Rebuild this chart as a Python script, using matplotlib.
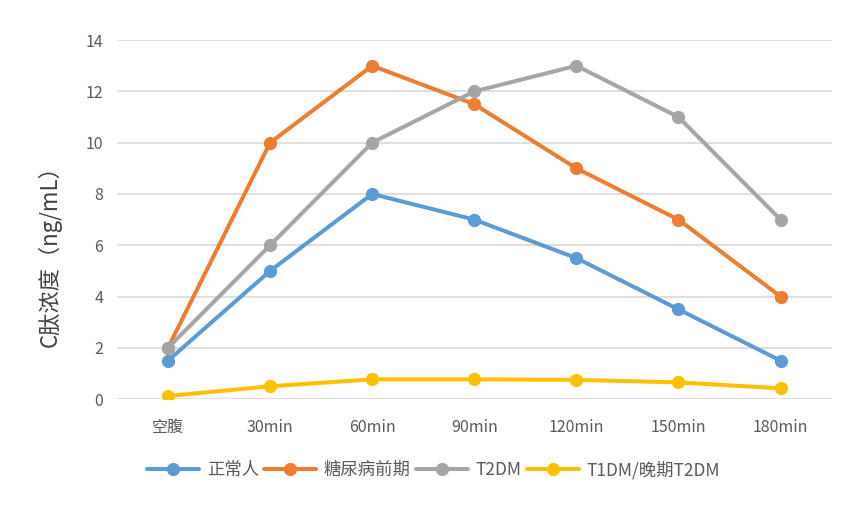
import matplotlib
matplotlib.use("Agg")
import matplotlib.pyplot as plt

plt.rcParams['font.family'] = ['Noto Sans CJK SC', 'DejaVu Sans']

categories = ['空腹', '30min', '60min', '90min', '120min', '150min', '180min']
normal = [1.5, 5, 8, 7, 5.5, 3.5, 1.5]
prediabetes = [2, 10, 13, 11.5, 9, 7, 4]
t2dm = [2, 6, 10, 12, 13, 11, 7]
t1dm = [0.12, 0.5, 0.77, 0.77, 0.75, 0.65, 0.42]

series = [
    ('正常人', normal, '#5B9BD5'),
    ('糖尿病前期', prediabetes, '#ED7D31'),
    ('T2DM', t2dm, '#A5A5A5'),
    ('T1DM/晚期T2DM', t1dm, '#FFC000'),
]

fig = plt.figure(figsize=(8.62, 5.21), dpi=100)
ax = fig.add_axes([0.1357, 0.234, 0.829, 0.689])

x = range(len(categories))
for name, vals, col in series:
    ax.plot(x, vals, color=col, lw=2.9, marker='o', markersize=8.5,
            label=name, solid_capstyle='round', zorder=3)

ax.set_xlim(-0.5, len(categories) - 0.5)
ax.set_ylim(0, 14)
ax.set_yticks(range(0, 15, 2))
ax.set_xticks(list(x))
ax.set_xticklabels(categories)
ax.grid(axis='y', color='#D9D9D9', lw=1.2)
ax.set_axisbelow(True)
for s in ax.spines.values():
    s.set_visible(False)
ax.tick_params(length=0, labelsize=11.5, colors='#595959', pad=10)
ax.tick_params(axis='x', pad=14)
ax.set_ylabel('C肽浓度（ng/mL）', fontsize=16, color='#404040')
ax.yaxis.set_label_coords(-0.077, 0.415)

fig.legend(loc='center', bbox_to_anchor=(0.503, 0.098), ncol=4, frameon=False,
           fontsize=12.5, handlelength=3.0, columnspacing=0.3, handletextpad=0.45,
           labelcolor='#595959')

fig.savefig('out.png', dpi=100)
